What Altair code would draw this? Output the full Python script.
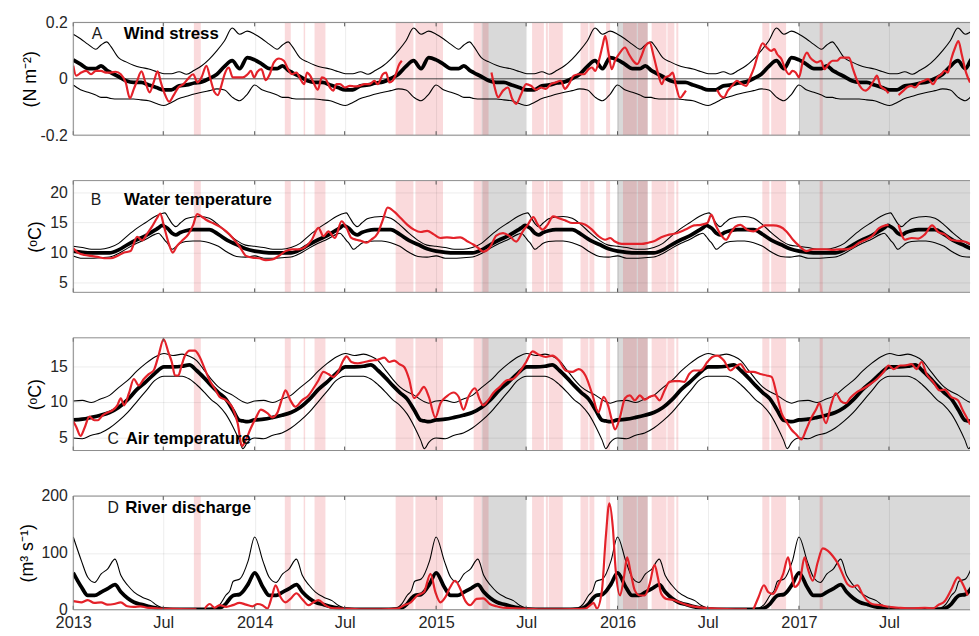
import altair as alt
import pandas as pd

# ------------------------------------------------------------------ data
# x values are "years since 1 Jan 2013"
tick_years = [2013, 2013.496, 2014, 2014.496, 2015, 2015.496, 2016, 2016.497, 2017, 2017.496]

pink_start = [0.665, 1.166, 1.270, 1.330, 1.777, 1.886, 2.207, 2.256, 2.529, 2.605, 2.621,
              2.796, 2.845, 2.937, 3.030, 3.112, 3.188, 3.275, 3.324, 3.798, 3.847, 4.114]
pink_end = [0.703, 1.199, 1.278, 1.390, 1.875, 2.038, 2.251, 2.289, 2.594, 2.616, 2.698,
            2.839, 2.872, 2.959, 3.106, 3.166, 3.270, 3.313, 3.335, 3.837, 3.929, 4.131]
grey_start = [2.251, 2.997, 4.000]
grey_end = [2.496, 3.166, 5.000]

# climatology (fraction of year) -------------------------------------------
wind_f = [0, 0.04, 0.082, 0.124, 0.153, 0.185, 0.207, 0.249, 0.291, 0.332, 0.374, 0.416, 0.458,
          0.5, 0.541, 0.583, 0.625, 0.667, 0.708, 0.75, 0.792, 0.834, 0.876, 0.917, 0.959]
wind_mean = [0.067, 0.052, 0.036, 0.036, 0.046, 0.030, 0.022, 0.008, -0.007, -0.013, -0.013, -0.022,
             -0.031, -0.039, -0.039, -0.025, -0.022, -0.015, -0.011, 0.001, 0.016, 0.044, 0.064,
             0.036, 0.075]
wind_upper = [0.158, 0.142, 0.122, 0.105, 0.120, 0.131, 0.115, 0.075, 0.060, 0.048, 0.040, 0.035,
              0.026, 0.018, 0.018, 0.025, 0.016, 0.030, 0.046, 0.070, 0.100, 0.135, 0.180, 0.158,
              0.169]
wind_lower = [-0.022, -0.039, -0.048, -0.058, -0.066, -0.066, -0.070, -0.072, -0.072, -0.072,
              -0.075, -0.078, -0.088, -0.095, -0.084, -0.070, -0.062, -0.054, -0.048, -0.042,
              -0.036, -0.040, -0.065, -0.078, -0.055]

water_f = [0, 0.05, 0.1, 0.15, 0.2, 0.25, 0.3, 0.35, 0.4, 0.45, 0.47, 0.49, 0.505, 0.52, 0.545,
           0.565, 0.59, 0.62, 0.66, 0.7, 0.75, 0.8, 0.85, 0.9, 0.95]
water_mean = [10.2, 10.0, 9.9, 9.9, 9.9, 10.4, 11.3, 12.1, 12.8, 13.7, 14.1, 14.5, 14.3, 14.0,
              13.2, 12.9, 13.3, 13.6, 13.8, 13.8, 13.8, 13.0, 12.0, 11.3, 10.6]
water_upper = [11.0, 10.8, 10.5, 10.5, 10.8, 11.5, 12.8, 14.0, 15.0, 16.0, 16.3, 16.5, 16.6, 16.0,
               14.8, 14.3, 14.9, 15.6, 15.9, 16.0, 15.7, 14.6, 13.2, 12.0, 11.2]
water_lower = [9.4, 9.0, 9.0, 9.1, 9.2, 9.8, 10.7, 11.5, 12.2, 13.0, 13.2, 12.6, 12.0, 11.5,
               10.5, 10.9, 11.5, 11.8, 11.9, 11.9, 11.6, 11.0, 10.0, 9.3, 9.2]

air_f = [0, 0.05, 0.1, 0.15, 0.2, 0.25, 0.3, 0.35, 0.4, 0.45, 0.5, 0.55, 0.6, 0.64, 0.68, 0.72,
         0.76, 0.8, 0.84, 0.88, 0.915, 0.935, 0.96]
air_mean = [7.45, 7.55, 7.8, 8.1, 8.5, 9.2, 10.3, 11.7, 12.8, 14.0, 14.9, 14.9, 15.0, 15.2, 14.4,
            13.4, 12.3, 11.3, 10.4, 8.8, 7.4, 7.3, 7.2]
air_upper = [10.1, 10.2, 9.9, 10.4, 10.9, 12.0, 13.0, 14.3, 15.4, 16.3, 16.8, 16.5, 16.7, 16.4,
             15.8, 14.5, 13.2, 12.1, 11.4, 10.9, 10.3, 10.0, 9.8]
air_lower = [4.9, 4.8, 5.3, 5.6, 6.3, 7.3, 8.5, 10.0, 11.5, 13.0, 13.6, 13.6, 13.6, 13.2, 12.4,
             11.4, 10.3, 9.5, 8.3, 6.5, 4.6, 3.4, 4.3]

flow_f = [0, 0.045, 0.08, 0.118, 0.154, 0.19, 0.23, 0.263, 0.30, 0.335, 0.38, 0.426, 0.46, 0.5,
          0.6, 0.7, 0.78, 0.81, 0.84, 0.864, 0.882, 0.918, 0.964]
flow_mean = [65, 40, 25, 25, 31, 37, 44, 31, 20, 13, 9, 5, 3, 1, 0.5, 0.5, 1, 3, 10, 20, 25, 27, 45]
flow_upper = [128, 86, 57, 48, 63, 72, 89, 60, 43, 31, 22, 16, 8, 3, 1, 1, 3, 10, 25, 34, 50, 54, 86]

# observations (segments) -------------------------------------------------
wind_t1 = [0.000, 0.016, 0.044, 0.071, 0.098, 0.125, 0.153, 0.180, 0.207, 0.234,
           0.262, 0.289, 0.312, 0.334, 0.352, 0.376, 0.398, 0.421, 0.443, 0.465,
           0.483, 0.501, 0.529, 0.552, 0.579, 0.607, 0.634, 0.661, 0.685, 0.707,
           0.734, 0.756, 0.779, 0.797, 0.816, 0.834, 0.857, 0.879, 0.906, 0.934,
           0.961, 0.979, 0.997,
           1.015, 1.037, 1.061, 1.083, 1.106, 1.134, 1.161, 1.184, 1.206, 1.230,
           1.252, 1.273, 1.288, 1.306, 1.324, 1.348, 1.370, 1.391, 1.415, 1.433,
           1.451, 1.470, 1.497, 1.524, 1.551, 1.579, 1.606, 1.633, 1.660, 1.678,
           1.706, 1.724, 1.742, 1.760, 1.778, 1.793, 1.811]
wind_v1 = [0.046, 0.011, 0.022, 0.028, 0.016, 0.028, 0.028, 0.022, 0.022, 0.025,
           0.016, -0.013, -0.069, -0.036, -0.007, 0.026, -0.013, -0.048, -0.013, 0.026,
           -0.013, -0.048, -0.081, -0.060, -0.031, -0.019, 0.001, 0.016, -0.013, 0.005,
           0.046, -0.001, -0.048, -0.058, -0.025, 0.016, 0.040, 0.005, 0.005, 0.005,
           0.016, 0.028, 0.005,
           0.025, 0.034, -0.005, 0.016, 0.058, 0.072, 0.064, 0.034, 0.016, 0.022,
           -0.001, -0.019, 0.022, 0.011, -0.013, -0.039, 0.005, -0.001, -0.031, -0.042,
           -0.019, -0.019, -0.031, -0.025, -0.027, -0.025, -0.019, -0.019, -0.007, -0.019,
           0.016, 0.022, -0.013, -0.007, 0.016, 0.046, 0.064]
wind_t2 = [2.305, 2.323, 2.341, 2.369, 2.396, 2.420, 2.441, 2.469, 2.496, 2.523,
           2.550, 2.578, 2.605, 2.632, 2.659, 2.687, 2.710, 2.732, 2.759, 2.787,
           2.814, 2.841, 2.859, 2.877, 2.899, 2.917, 2.932, 2.950, 2.968, 2.986,
           3.014, 3.041, 3.063, 3.086, 3.108, 3.132, 3.153, 3.177, 3.199, 3.222,
           3.244, 3.262, 3.286, 3.304, 3.322, 3.344, 3.364, 3.377]
wind_v2 = [0.022, -0.031, -0.066, -0.042, -0.031, -0.072, -0.089, -0.054, -0.019, -0.025,
           -0.039, -0.031, -0.036, -0.019, -0.013, -0.007, -0.036, -0.019, 0.011, 0.016,
           0.016, 0.034, 0.040, 0.028, 0.069, 0.116, 0.152, 0.093, 0.034, 0.064,
           0.093, 0.111, 0.087, 0.064, 0.052, 0.081, 0.116, 0.128, 0.081, 0.022,
           -0.019, 0.005, 0.011, 0.022, -0.025, -0.068, -0.054, -0.042]
wind_t3 = [3.549, 3.568, 3.586, 3.608, 3.631, 3.658, 3.686, 3.709, 3.731, 3.753,
           3.777, 3.800, 3.822, 3.846, 3.864, 3.880, 3.904, 3.925, 3.945, 3.964,
           3.982, 4.000, 4.022, 4.044, 4.062, 4.080, 4.098, 4.122, 4.140, 4.163,
           4.185, 4.209, 4.231, 4.254, 4.276, 4.298, 4.321, 4.345, 4.367, 4.389,
           4.412, 4.430, 4.449, 4.476, 4.494]
wind_v3 = [-0.039, -0.060, -0.066, -0.042, -0.025, -0.007, -0.019, -0.025, 0.005, 0.040,
           0.093, 0.126, 0.111, 0.099, 0.105, 0.087, 0.069, 0.034, 0.016, 0.028,
           0.022, 0.005, 0.064, 0.093, 0.075, 0.064, 0.058, 0.064, 0.034, 0.052,
           0.064, 0.064, 0.075, 0.075, 0.075, 0.034, -0.007, -0.034, -0.042, -0.031,
           -0.007, 0.011, -0.025, -0.039, -0.051]
wind_t4 = [4.549, 4.576, 4.594, 4.618, 4.639, 4.667, 4.690, 4.712, 4.739, 4.763,
           4.785, 4.803, 4.821, 4.839, 4.861, 4.879, 4.897, 4.921, 4.943]
wind_v4 = [-0.058, -0.042, -0.031, -0.025, -0.031, -0.013, -0.007, -0.001, -0.019, 0.005,
           0.016, 0.028, 0.022, 0.069, 0.111, 0.134, 0.087, 0.022, -0.013]

water_t1 = [0.000, 0.025, 0.062, 0.098, 0.134, 0.171, 0.207, 0.243, 0.280, 0.316,
            0.352, 0.380, 0.407, 0.434, 0.461, 0.480, 0.498, 0.525, 0.549, 0.570,
            0.598, 0.634, 0.661, 0.683, 0.707, 0.734, 0.770, 0.807, 0.843, 0.879,
            0.916, 0.952, 0.988, 1.025, 1.061, 1.097, 1.134, 1.170, 1.206, 1.242,
            1.279, 1.315, 1.351, 1.379, 1.406, 1.442, 1.479, 1.506, 1.533, 1.560,
            1.588, 1.615, 1.642, 1.678, 1.706, 1.733, 1.769, 1.806, 1.842, 1.878,
            1.915, 1.951, 1.987, 2.024, 2.060, 2.096, 2.133, 2.169, 2.205, 2.233,
            2.260, 2.296, 2.332, 2.369, 2.405, 2.441, 2.478, 2.505, 2.536, 2.559,
            2.587, 2.614, 2.645, 2.677, 2.714, 2.750, 2.787, 2.823, 2.859, 2.895,
            2.932, 2.959, 2.986, 3.023, 3.077, 3.132, 3.168, 3.204, 3.241, 3.277,
            3.313, 3.350, 3.386, 3.422, 3.459, 3.495, 3.517, 3.540, 3.568, 3.598,
            3.622, 3.649, 3.677, 3.713, 3.749, 3.786, 3.813, 3.858, 3.895, 3.931,
            3.967, 4.004, 4.040, 4.076, 4.113, 4.149, 4.185, 4.222, 4.258, 4.294,
            4.331, 4.367, 4.403, 4.440, 4.476, 4.494]
water_v1 = [10.66, 9.95, 9.56, 9.40, 9.23, 9.01, 9.01, 9.40, 9.95, 10.22,
            12.6, 12.0, 13.1, 14.3, 15.7, 16.5, 14.6, 11.6, 9.95, 11.0,
            11.9, 13.0, 14.6, 16.4, 16.0, 15.4, 14.9, 14.3, 13.5, 12.4,
            11.0, 9.4, 9.1, 9.0, 8.7, 8.8, 9.4, 10.2, 10.5, 10.5,
            10.9, 12.1, 14.1, 12.7, 13.5, 12.4, 15.2, 14.1, 12.4, 12.1,
            11.9, 11.6, 12.1, 13.2, 15.4, 17.5, 16.8, 15.7, 14.6, 13.8,
            13.4, 13.6, 13.0, 12.4, 12.5, 12.4, 12.5, 11.9, 11.3, 10.7,
            10.1, 10.8, 12.8, 13.2, 12.7, 11.8, 13.5, 14.6, 15.9, 14.7,
            13.8, 14.6, 16.0, 15.7, 15.3, 14.9, 14.9, 14.6, 13.8, 12.7,
            12.1, 12.4, 11.8, 11.4, 11.4, 11.4, 11.6, 11.9, 12.5, 12.9,
            13.1, 13.5, 14.0, 14.5, 14.6, 14.9, 16.3, 14.6, 13.0, 12.1,
            13.2, 14.3, 14.6, 13.8, 13.5, 14.1, 14.5, 14.5, 14.3, 13.5,
            12.1, 11.0, 10.2, 10.5, 10.5, 10.5, 10.4, 10.5, 10.5, 10.8,
            11.6, 12.1, 12.7, 14.0, 14.5, 14.6]
water_t2 = [4.549, 4.585, 4.621, 4.658, 4.694, 4.734, 4.767, 4.803, 4.839, 4.876, 4.912, 4.943]
water_v2 = [14.6, 12.1, 12.4, 12.3, 13.0, 14.5, 13.4, 13.0, 12.1, 11.9, 11.8, 11.4]

air_t1 = [0.000, 0.016, 0.040, 0.062, 0.089, 0.116, 0.134, 0.162, 0.189, 0.216,
          0.243, 0.262, 0.280, 0.307, 0.334, 0.361, 0.389, 0.416, 0.443, 0.470,
          0.498, 0.525, 0.543, 0.561, 0.579, 0.597, 0.616, 0.643, 0.670, 0.697,
          0.725, 0.752, 0.779, 0.806, 0.843, 0.879, 0.906, 0.930, 0.952, 0.979,
          1.006, 1.034,
          1.070, 1.097, 1.124, 1.152, 1.170, 1.197, 1.224, 1.261, 1.297, 1.324,
          1.351, 1.379, 1.406, 1.433, 1.460, 1.488, 1.506, 1.533, 1.569, 1.606,
          1.642, 1.678, 1.715, 1.742, 1.769, 1.797, 1.824, 1.851, 1.878, 1.906,
          1.933, 1.960, 1.996, 2.024, 2.060, 2.096, 2.124, 2.151, 2.178, 2.214,
          2.242, 2.260, 2.287, 2.314, 2.351, 2.387, 2.423, 2.460, 2.496, 2.532,
          2.568, 2.605, 2.641, 2.677, 2.714, 2.750, 2.786, 2.823, 2.859, 2.895,
          2.923, 2.950, 2.968, 2.986, 3.014, 3.041, 3.068, 3.095, 3.123, 3.150,
          3.177, 3.204, 3.232, 3.259, 3.286, 3.313, 3.341, 3.368, 3.395, 3.422,
          3.459, 3.495, 3.522, 3.549, 3.586, 3.622, 3.649, 3.677, 3.713, 3.749,
          3.786, 3.822, 3.849, 3.876, 3.904, 3.931, 3.958, 3.985, 4.013, 4.040,
          4.067, 4.094, 4.113, 4.131, 4.149, 4.176, 4.203, 4.231, 4.258, 4.285,
          4.321, 4.358, 4.394, 4.430, 4.467, 4.494, 4.521, 4.558, 4.585, 4.621,
          4.648, 4.676, 4.703, 4.739, 4.776, 4.803, 4.839, 4.876, 4.903, 4.930,
          4.943]
air_v1 = [7.2, 6.5, 5.2, 6.3, 7.9, 7.4, 7.4, 8.1, 8.5, 8.8,
          9.5, 10.5, 9.5, 11.2, 13.2, 12.3, 13.2, 13.9, 14.4, 16.5,
          18.8, 16.9, 15.6, 13.7, 13.7, 15.1, 16.5, 17.2, 17.2, 16.3,
          14.6, 13.0, 11.9, 10.7, 10.2, 9.1, 7.0, 3.75, 4.7, 6.3,
          7.7, 8.9,
          8.4, 7.8, 8.4, 10.5, 11.6, 10.2, 9.3, 10.2, 10.9, 11.9,
          13.0, 14.2, 13.9, 13.5, 14.2, 15.8, 16.4, 15.6, 15.4, 15.6,
          15.8, 15.9, 16.2, 15.6, 15.8, 15.3, 14.9, 13.2, 10.5, 11.2,
          12.1, 10.7, 7.8, 9.8, 10.8, 11.3, 10.7, 8.9, 10.7, 11.9,
          10.2, 9.5, 10.2, 11.2, 12.1, 13.0, 13.2, 14.2, 15.6, 17.1,
          16.6, 16.3, 16.5, 15.8, 14.4, 14.2, 14.6, 13.7, 11.2, 8.5,
          10.7, 9.3, 7.5, 6.1, 7.9, 10.5, 10.9, 10.2, 10.9, 10.3,
          10.7, 10.9, 10.2, 11.6, 12.8, 12.9, 12.9, 12.8, 13.9, 14.4,
          14.4, 15.6, 16.3, 16.5, 15.8, 14.4, 14.9, 15.3, 14.2, 14.2,
          13.9, 13.7, 13.5, 11.2, 8.4, 7.2, 6.1, 5.4, 4.7, 6.1,
          7.7, 8.9, 9.8, 8.1, 7.0, 9.5, 11.2, 10.1, 9.8, 10.6,
          11.4, 11.9, 12.5, 13.2, 14.2, 15.1, 14.6, 15.1, 15.1, 15.3,
          14.6, 15.6, 13.9, 12.8, 11.6, 11.7, 10.7, 10.2, 8.8, 7.5,
          6.8]

flow_t1 = [0.000, 0.044, 0.080, 0.116, 0.153, 0.189, 0.225, 0.262, 0.298, 0.334,
           0.371, 0.407, 0.443, 0.480, 0.589, 0.679]
flow_v1 = [15, 13, 17, 12, 13, 9, 10, 13, 6, 5, 6, 3.5, 3, 2, 1.2, 0.6]
flow_t2 = [0.725, 0.752, 0.779, 0.807, 0.843, 0.879, 0.916, 0.952, 0.988, 1.015,
           1.043, 1.070, 1.094, 1.115, 1.143, 1.170, 1.197, 1.230, 1.261, 1.297,
           1.324, 1.351, 1.388, 1.424, 1.479, 1.606, 1.697, 1.787, 1.824, 1.860,
           1.896, 1.933, 1.969, 1.996, 2.024, 2.051, 2.078, 2.105, 2.133, 2.160,
           2.187, 2.223, 2.260, 2.296, 2.332, 2.369, 2.405, 2.460, 2.587, 2.768,
           2.823, 2.850, 2.868, 2.886, 2.914, 2.935, 2.955, 2.974, 2.990, 3.014,
           3.035, 3.053, 3.072, 3.095, 3.123, 3.150, 3.177, 3.204, 3.222, 3.241,
           3.268, 3.304, 3.341, 3.386, 3.431, 3.495, 3.604, 3.713]
flow_v2 = [2, 10, 3.5, 8, 5, 8, 12, 9, 6, 10,
           8, 2, 22, 43, 22, 13, 19, 29, 19, 8,
           13, 17, 8, 3, 2, 0.6, 0.6, 2, 8, 13,
           25, 31, 63, 31, 13, 22, 40, 51, 37, 16,
           8, 19, 20, 10, 6, 3.5, 3, 2, 0.6, 1.2,
           2, 8, 12, 2, 34, 127, 187, 145, 69, 25,
           57, 92, 66, 34, 25, 25, 45, 79, 57, 28,
           19, 17.5, 13, 8, 5, 3, 1.2, 0.6]
flow_t3 = [3.749, 3.777, 3.807, 3.831, 3.858, 3.885, 3.913, 3.940, 3.958, 3.976,
           4.004, 4.031, 4.049, 4.076, 4.103, 4.131, 4.158, 4.185, 4.213, 4.240,
           4.267, 4.294, 4.322, 4.349, 4.376, 4.403, 4.449, 4.494, 4.549, 4.621,
           4.694, 4.739, 4.767, 4.803, 4.839, 4.876, 4.903, 4.930]
flow_v3 = [0.6, 22, 43, 31, 28, 43, 63, 92, 66, 40,
           50, 92, 72, 51, 83, 108, 104, 95, 82, 63,
           45, 40, 43, 28, 16, 10, 8, 5, 3.5, 2.3,
           3.5, 2.3, 8, 15, 35, 57, 45, 25]

# ------------------------------------------------------------------ layout / style
BASE_YEAR = 2013
W = 907
PX_PER_YEAR = 183.5
X_DOMAIN = [2013.0, 2013.0 + W / PX_PER_YEAR]
FONT = "Liberation Sans"
RED = "#E4222A"
PINK = "#E3262E"
GREY = "#D9D9D9"
BORDER = "#8C8C8C"


def clim_frame(f, mean, upper, lower):
    rows = []
    for yr in range(2013, 2019):
        for i, ff in enumerate(f):
            rows.append({"year": yr + ff, "mean": mean[i], "upper": upper[i],
                         "lower": (lower[i] if lower is not None else None)})
    return pd.DataFrame(rows)


def obs_frame(segments):
    rows = []
    for k, (ts, vs) in enumerate(segments):
        if len(ts) != len(vs):
            raise ValueError(f"segment {k}: {len(ts)} times vs {len(vs)} values")
        for t, v in zip(ts, vs):
            rows.append({"year": BASE_YEAR + t, "value": v, "seg": k})
    return pd.DataFrame(rows)


pink_df = pd.DataFrame({"start": [BASE_YEAR + s for s in pink_start],
                        "end": [BASE_YEAR + e for e in pink_end]})
grey_df = pd.DataFrame({"start": [BASE_YEAR + s for s in grey_start],
                        "end": [BASE_YEAR + e for e in grey_end]})
tick_df = pd.DataFrame({"year": tick_years})
one_row = pd.DataFrame({"a": [0]})

x_scale = alt.Scale(domain=X_DOMAIN, nice=False, zero=False)


def make_panel(clim, obs, ydomain, yticks, ytitle, height, letter, title,
               letter_xy, title_xy, show_x_labels, ylabel_expr=None, zero_line=False,
               title_pad=5):
    y_scale = alt.Scale(domain=ydomain, nice=False, zero=False)
    x_axis = alt.Axis(values=tick_years, grid=True, gridColor="#000000", gridOpacity=0.08,
                      ticks=False, domain=False, title=None, labels=show_x_labels,
                      labelExpr="(datum.value % 1) < 0.01 ? format(datum.value, 'd') : 'Jul'",
                      labelFont=FONT, labelFontSize=16.5, labelColor="#262626",
                      labelPadding=5, labelFlush=False, zindex=1)
    y_axis_kw = dict(values=yticks, grid=True, gridColor="#000000", gridOpacity=0.08,
                     ticks=False, domain=False, title=ytitle, titleFont=FONT,
                     titleFontSize=18, titleFontWeight="normal", titleColor="#000000",
                     titlePadding=title_pad, labelFont=FONT, labelFontSize=16,
                     labelColor="#262626", labelPadding=6, zindex=1)
    if ylabel_expr:
        y_axis_kw["labelExpr"] = ylabel_expr
    y_axis = alt.Axis(**y_axis_kw)

    def X(field):
        return alt.X(field, type="quantitative", scale=x_scale, axis=x_axis)

    def Y(field):
        return alt.Y(field, type="quantitative", scale=y_scale, axis=y_axis)

    layers = []
    layers.append(alt.Chart(grey_df).mark_rect(color=GREY, clip=True)
                  .encode(x=X("start"), x2="end"))
    layers.append(alt.Chart(pink_df).mark_rect(color=PINK, opacity=0.17, clip=True)
                  .encode(x=X("start"), x2="end"))
    if zero_line:
        layers.append(alt.Chart(one_row).mark_rule(color="#404040", strokeWidth=0.9)
                      .encode(y=alt.Y(datum=0, type="quantitative", scale=y_scale, axis=y_axis)))
    line_kw = dict(interpolate="monotone", clip=True)
    layers.append(alt.Chart(clim).mark_line(color="#000000", strokeWidth=1.1, **line_kw)
                  .encode(x=X("year"), y=Y("upper")))
    if clim["lower"].notna().any():
        layers.append(alt.Chart(clim).mark_line(color="#000000", strokeWidth=1.1, **line_kw)
                      .encode(x=X("year"), y=Y("lower")))
    layers.append(alt.Chart(clim).mark_line(color="#000000", strokeWidth=3.8, **line_kw)
                  .encode(x=X("year"), y=Y("mean")))
    layers.append(alt.Chart(obs).mark_line(color=RED, strokeWidth=2.2, **line_kw)
                  .encode(x=X("year"), y=Y("value"), detail="seg:N"))
    # inward tick marks (top and bottom)
    layers.append(alt.Chart(tick_df).mark_rule(color="#555555", strokeWidth=1)
                  .encode(x=X("year"), y=alt.value(0), y2=alt.value(4)))
    layers.append(alt.Chart(tick_df).mark_rule(color="#555555", strokeWidth=1)
                  .encode(x=X("year"), y=alt.value(height), y2=alt.value(height - 4)))
    # frame: top, bottom, left
    for yv in ydomain:
        layers.append(alt.Chart(one_row).mark_rule(color=BORDER, strokeWidth=1)
                      .encode(y=alt.Y(datum=yv, type="quantitative", scale=y_scale, axis=y_axis)))
    layers.append(alt.Chart(one_row).mark_rule(color=BORDER, strokeWidth=1)
                  .encode(x=alt.X(datum=X_DOMAIN[0], type="quantitative", scale=x_scale, axis=x_axis)))
    # panel labels
    layers.append(alt.Chart(one_row).mark_text(font=FONT, fontSize=16, align="center",
                                               baseline="middle", color="#1a1a1a")
                  .encode(x=alt.X(datum=BASE_YEAR + letter_xy[0], type="quantitative", scale=x_scale, axis=x_axis),
                          y=alt.Y(datum=letter_xy[1], type="quantitative", scale=y_scale, axis=y_axis),
                          text=alt.value(letter)))
    layers.append(alt.Chart(one_row).mark_text(font=FONT, fontSize=17, fontWeight="bold",
                                               align="left", baseline="middle", color="#000000")
                  .encode(x=alt.X(datum=BASE_YEAR + title_xy[0], type="quantitative", scale=x_scale, axis=x_axis),
                          y=alt.Y(datum=title_xy[1], type="quantitative", scale=y_scale, axis=y_axis),
                          text=alt.value(title)))
    return alt.layer(*layers).properties(width=W, height=height)


wind_clim = clim_frame(wind_f, wind_mean, wind_upper, wind_lower)
water_clim = clim_frame(water_f, water_mean, water_upper, water_lower)
air_clim = clim_frame(air_f, air_mean, air_upper, air_lower)
flow_clim = clim_frame(flow_f, flow_mean, flow_upper, None)

wind_obs = obs_frame([(wind_t1, wind_v1), (wind_t2, wind_v2), (wind_t3, wind_v3), (wind_t4, wind_v4)])
water_obs = obs_frame([(water_t1, water_v1), (water_t2, water_v2)])
air_obs = obs_frame([(air_t1, air_v1)])
flow_obs = obs_frame([(flow_t1, flow_v1), (flow_t2, flow_v2), (flow_t3, flow_v3)])

wind_lbl = ("datum.value == 0 ? '0' : (datum.value < 0 ? '-' : '') + format(abs(datum.value), '.1f')")

pA = make_panel(wind_clim, wind_obs, [-0.2, 0.2], [-0.2, 0, 0.2], "(N m\u207b\u00b2)", 114,
                "A", "Wind stress", (0.131, 0.16), (0.278, 0.16), False,
                ylabel_expr=wind_lbl, zero_line=True, title_pad=1)
pB = make_panel(water_clim, water_obs, [3.3, 22.0], [5, 10, 15, 20], "(\u1d52C)", 113,
                "B", "Water temperature", (0.125, 18.8), (0.28, 18.8), False)
pC = make_panel(air_clim, air_obs, [3.14, 19.0], [5, 10, 15], "(\u1d52C)", 114,
                "C", "Air temperature", (0.22, 4.75), (0.289, 4.75), False)
pD = make_panel(flow_clim, flow_obs, [0, 200], [0, 100, 200], "(m\u00b3 s\u207b\u00b9)", 115,
                "D", "River discharge", (0.22, 178), (0.286, 178), True)

chart = (
    alt.vconcat(pA, pB, pC, pD, spacing=46, bounds="flush")
    .properties(padding={"left": 10, "top": 3, "right": 0, "bottom": 0})
    .configure(font=FONT)
    .configure_view(stroke=None)
)

chart.save("out.html", embed_options={"renderer": "svg", "actions": False})
